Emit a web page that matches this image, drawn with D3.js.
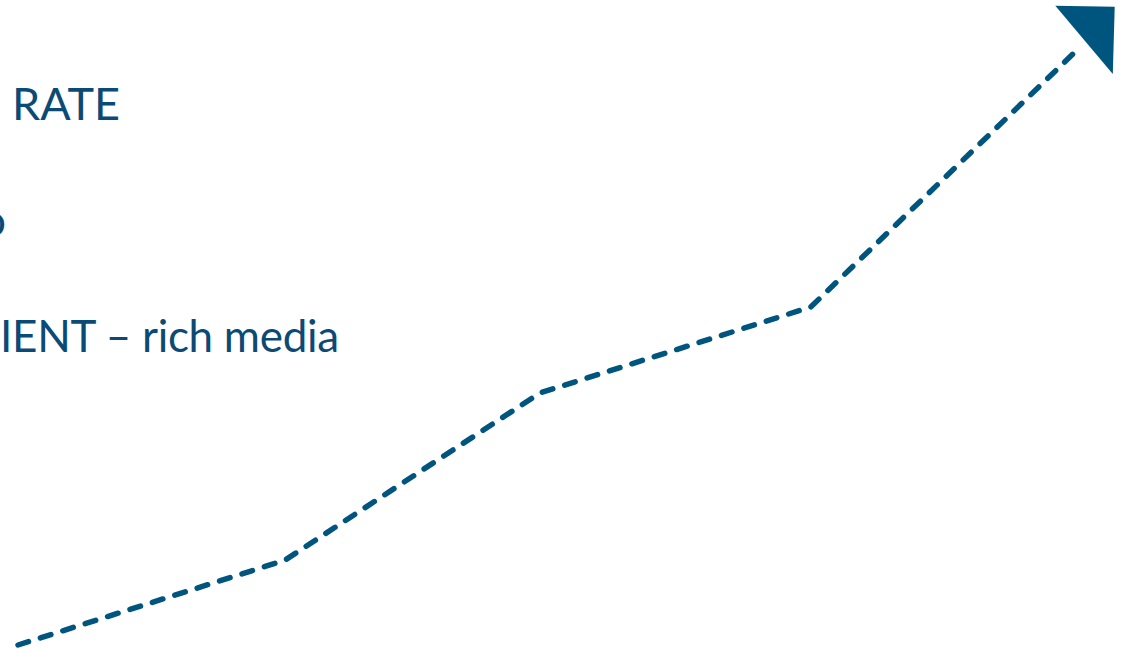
<!DOCTYPE html>
<html>
<head>
<meta charset="utf-8">
<script src="https://cdn.jsdelivr.net/npm/d3@7"></script>
<style>
  html, body { margin: 0; padding: 0; background: #ffffff; }
  svg { display: block; }
</style>
</head>
<body>
<svg id="chart" width="1137" height="653"></svg>
<script>
// ---- data ----
const steps = [0, 1.01, 1.975, 3.0, 4.0];
const trendValues = [0, 14.3, 42.5, 57.0, 100];
const labelTexts = ["RATE", "o", "IENT – rich media"];

// ---- layout ----
const svg = d3.select("#chart");
const lineColor = "#00557f";
const textColor = "#0c4a76";

const x = d3.scaleLinear().domain([0, 4]).range([18, 1075]);
const y = d3.scaleLinear().domain([0, 100]).range([645, 52]);

svg.append("defs").append("marker")
  .attr("id", "arrow")
  .attr("markerUnits", "userSpaceOnUse")
  .attr("viewBox", "0 -50 70 100")
  .attr("refX", 0).attr("refY", 0)
  .attr("markerWidth", 70).attr("markerHeight", 100)
  .attr("orient", "auto")
  .append("path")
  .attr("d", "M18,-47 L60,-5 L12,42 Z")
  .attr("fill", lineColor);

const line = d3.line()
  .x((d, i) => x(steps[i]))
  .y(d => y(d));

svg.append("path")
  .datum(trendValues)
  .attr("d", line)
  .attr("fill", "none")
  .attr("stroke", lineColor)
  .attr("stroke-width", 5.5)
  .attr("stroke-linecap", "round")
  .attr("stroke-linejoin", "round")
  .attr("stroke-dasharray", "11,12.5")
  .attr("marker-end", "url(#arrow)");

// labels (the reference shows only these visible fragments at the left edge)
const labelX = [12, 6, 0];
const labelAnchor = ["start", "end", "start"];
const labelBaselines = [120, 236, 352];
const labelSizes = [45, 45, 44];
svg.selectAll("text.lbl")
  .data(labelTexts)
  .enter().append("text")
  .attr("class", "lbl")
  .attr("x", (d, i) => labelX[i])
  .attr("y", (d, i) => labelBaselines[i])
  .attr("text-anchor", (d, i) => labelAnchor[i])
  .attr("fill", textColor)
  .style("font-family", "Lato, 'Open Sans', sans-serif")
  .style("font-size", (d, i) => labelSizes[i] + "px")
  .style("letter-spacing", (d, i) => i === 2 ? "-0.3px" : "0px")
  .text(d => d);
</script>
</body>
</html>
